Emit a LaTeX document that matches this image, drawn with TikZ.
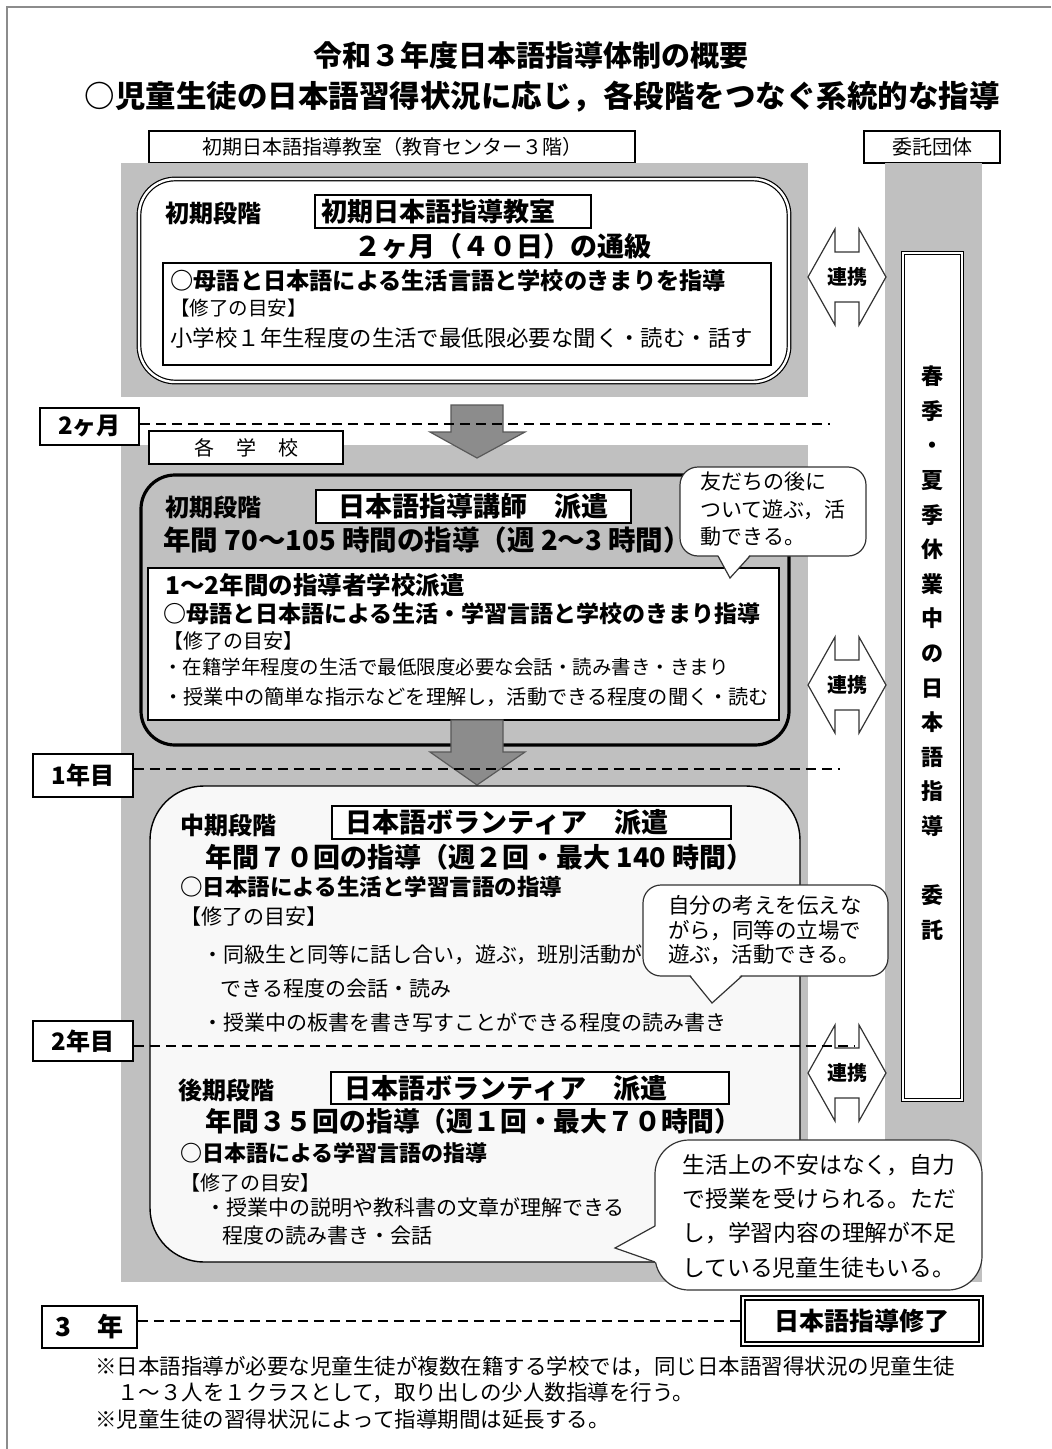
\documentclass[tikz,border=0pt]{standalone}
\usepackage{fontspec}
\setmainfont{Noto Sans CJK JP}
\usetikzlibrary{calc}
\definecolor{panel}{RGB}{192,192,192}
\definecolor{arrowgray}{RGB}{140,140,140}
\definecolor{lowfill}{RGB}{248,248,248}
\definecolor{framegray}{RGB}{140,140,140}
\newcommand\jfz[1]{\fontsize{#1pt}{#1pt}\selectfont}
\tikzset{
  renkei/.pic={
    \draw[fill=white,line width=0.6pt,draw=black!80] (-39,0) -- (-12,-48) -- (-12,-25) -- (12,-25) -- (12,-48) -- (39,0) -- (12,48) -- (12,25) -- (-12,25) -- (-12,48) -- cycle;
    \node[font=\bfseries\jfz{10}] (-t) at (0,0) {連携};
  }
}
\begin{document}
\begin{tikzpicture}[x=0.5pt,y=-0.5pt,
  every node/.style={inner sep=0pt},
  tl/.style={anchor=west,inner sep=0pt},
  frm/.style={draw,line width=0.7pt,fill=white},
  dline/.style={line width=0.6pt,dash pattern=on 5pt off 3pt},
  downarrow/.style={fill=arrowgray,draw=black!65,line width=0.6pt},
  bubble/.style={draw=black!80,line width=0.6pt,fill=white},
  yearbox/.style={draw,line width=0.8pt,fill=white,font=\bfseries\jfz{12}},
  namebox/.style={draw,line width=0.8pt,fill=white,anchor=west,align=left,font=\bfseries\jfz{13.5}},
]
\useasboundingbox (0,0) rectangle (1051,1449);
\fill[white] (0,0) rectangle (1051,1449);
% frame
\draw[framegray,line width=1pt] (7,1449) -- (7,7) -- (1051,7);

% titles
\node[font=\bfseries\jfz{14.5}] (t1) at (531,55) {令和３年度日本語指導体制の概要};
\node[font=\bfseries\jfz{15.25}] (t2) at (542,97) {○児童生徒の日本語習得状況に応じ，各段階をつなぐ系統的な指導};

% header boxes
\node[frm,minimum width=243pt,minimum height=16pt,font=\jfz{10}] (hdr1) at (392,147) {初期日本語指導教室（教育センター３階）};
\node[frm,minimum width=68pt,minimum height=16pt,font=\jfz{10}] (hdr2) at (932,147) {委託団体};

% gray panels
\fill[panel] (121,163) rectangle (808,397);
\fill[panel] (885,163) rectangle (982,1282);
\fill[panel] (121,445) rectangle (808,1282);
\fill[panel] (808,1140) rectangle (885,1282);

% ---------- top stage ----------
\draw[double,double distance=1.2pt,line width=0.6pt,fill=white,rounded corners=18pt] (139,179) rectangle (789,382);
\node[tl,font=\bfseries\jfz{12}] (s1) at (165,213) {初期段階};
\node[namebox,text width=131pt,inner xsep=3.5pt,minimum height=16.5pt,font=\bfseries\jfz{13}] (box1) at (314,211.5) {初期日本語指導教室};
\node[font=\bfseries\jfz{13.5}] (dur1) at (503,246) {２ヶ月（４０日）の通級};
\draw[line width=0.8pt,fill=white] (163,263) rectangle (771,365);
\node[tl,font=\bfseries\jfz{11.6}] (l1a) at (170,281) {○母語と日本語による生活言語と学校のきまりを指導};
\node[tl,font=\jfz{9.75}] (l1b) at (170,308) {【修了の目安】};
\node[tl,font=\jfz{11.2}] (l1c) at (170,338) {小学校１年生程度の生活で最低限必要な聞く・読む・話す};

% down arrow 1
\draw[downarrow] (451,405) -- (503,405) -- (503,432) -- (525,432) -- (477,458) -- (430,432) -- (451,432) -- cycle;

% 2 months line
\node[yearbox,minimum width=49.5pt,minimum height=18.5pt] (m2) at (89.5,426.5) {2ヶ月};
\coordinate (m2end) at (830,424);
\draw[dline] (m2.east |- m2end) -- (m2end);

% 各学校
\node[frm,minimum width=97pt,minimum height=16.5pt,font=\jfz{10}] (kaku) at (246,447.5) {各\hspace{1.1em}学\hspace{1.1em}校};

% ---------- middle stage ----------
\draw[line width=1.6pt,fill=panel,rounded corners=17pt] (141,475) rectangle (789,745);
\node[tl,font=\bfseries\jfz{12}] (s2) at (165,507) {初期段階};
\node[draw,line width=0.8pt,fill=white,minimum width=157.5pt,minimum height=16.5pt,font=\bfseries\jfz{13.5}] (box2) at (473.5,506.5) {日本語指導講師\hspace{1em}派遣};
\node[tl,font=\bfseries\jfz{13.75}] (hrs2) at (163,540) {年間 70～105 時間の指導（週 2～3 時間）};
\draw[line width=0.8pt,fill=white] (148,568) rectangle (779,720);
\node[tl,font=\bfseries\jfz{12.25}] (l2a) at (165,585) {1～2年間の指導者学校派遣};
\node[tl,font=\bfseries\jfz{11.5}] (l2b) at (163,614) {○母語と日本語による生活・学習言語と学校のきまり指導};
\node[tl,font=\jfz{10}] (l2c) at (163,641) {【修了の目安】};
\node[tl,font=\jfz{9.75}] (l2d) at (163,667) {・在籍学年程度の生活で最低限度必要な会話・読み書き・きまり};
\node[tl,font=\jfz{10.1}] (l2e) at (163,697) {・授業中の簡単な指示などを理解し，活動できる程度の聞く・読む};

% bubble 1
\draw[bubble,rounded corners=9pt] (680,467) rectangle (866,556);
\fill[white] (717,553) -- (730,578) -- (751,553) -- cycle;
\draw[draw=black!80,line width=0.6pt] (718,556) -- (730,578) -- (750,556);
\node[tl,align=left,font=\fontsize{10.5pt}{13.75pt}\selectfont] (b1) at (700,509.5) {友だちの後に\\ついて遊ぶ，活\\動できる。};

% down arrow 2
\draw[downarrow] (451,720) -- (503,720) -- (503,752) -- (525,752) -- (477,785) -- (430,752) -- (451,752) -- cycle;

% 1 year line
\node[yearbox,minimum width=50pt,minimum height=21.5pt] (y1) at (83,775.5) {1年目};
\coordinate (y1end) at (840,769);
\draw[dline] (y1.east |- y1end) -- (y1end);

% ---------- lower box ----------
\draw[line width=0.7pt,fill=lowfill,rounded corners=27pt] (150,786) rectangle (800,1262);
\node[tl,font=\bfseries\jfz{12}] (s3) at (180,825) {中期段階};
\node[namebox,text width=185.5pt,inner xsep=7pt,minimum height=16.5pt] (box3) at (331,822.5) {日本語ボランティア\hspace{1em}派遣};
\node[tl,font=\bfseries\jfz{13.5}] (hrs3) at (205,857) {年間７０回の指導（週２回・最大 140 時間）};
\node[tl,font=\bfseries\jfz{11.25}] (l3a) at (180,887) {○日本語による生活と学習言語の指導};
\node[tl,font=\jfz{10.5}] (l3b) at (180,917) {【修了の目安】};
\node[tl,font=\jfz{10.5}] (l3c) at (202,955) {・同級生と同等に話し合い，遊ぶ，班別活動が};
\node[tl,font=\jfz{10.5}] (l3d) at (220,989) {できる程度の会話・読み};
\node[tl,font=\jfz{10.5}] (l3e) at (202,1022) {・授業中の板書を書き写すことができる程度の読み書き};

% bubble 2
\draw[bubble,rounded corners=9pt] (643,885) rectangle (888,976);
\fill[white] (689,973) -- (712,1003) -- (743,973) -- cycle;
\draw[draw=black!80,line width=0.6pt] (690,976) -- (712,1003) -- (742,976);
\node[tl,align=left,font=\fontsize{10.75pt}{12.25pt}\selectfont] (b2) at (668,930.5) {自分の考えを伝えな\\がら，同等の立場で\\遊ぶ，活動できる。};

\node[tl,font=\bfseries\jfz{12}] (s4) at (178,1090) {後期段階};
\node[namebox,text width=185pt,inner xsep=7pt,minimum height=16pt] (box4) at (330,1088) {日本語ボランティア\hspace{1em}派遣};
\node[tl,font=\bfseries\jfz{13.4}] (hrs4) at (205,1121) {年間３５回の指導（週１回・最大７０時間）};
\node[tl,font=\bfseries\jfz{11}] (l4a) at (180,1153) {○日本語による学習言語の指導};
\node[tl,font=\jfz{10}] (l4b) at (180,1183) {【修了の目安】};
\node[tl,font=\jfz{10.5}] (l4c) at (205,1208) {・授業中の説明や教科書の文章が理解できる};
\node[tl,font=\jfz{10.5}] (l4d) at (222,1236) {程度の読み書き・会話};

% right column
\draw[double,double distance=0.8pt,line width=0.5pt,fill=white] (903,253) rectangle (962,1100);
\node[align=center,font=\bfseries\fontsize{11pt}{17.3pt}\selectfont] (vt) at (932,653) {春\\季\\・\\夏\\季\\休\\業\\中\\の\\日\\本\\語\\指\\導\\[17.3pt]委\\託};

% renkei arrows
\pic (rk1) at (847,277) {renkei};
\pic (rk2) at (847,685) {renkei};
\pic (rk3) at (847,1073) {renkei};

% 2 year line (drawn over the arrow as in the reference)
\node[yearbox,minimum width=50pt,minimum height=20pt] (y2) at (83,1041) {2年目};
\coordinate (y2end) at (855,1046);
\draw[dline] (y2.east |- y2end) -- (y2end);

% bubble 3
\draw[bubble,rounded corners=17pt] (655,1140) rectangle (982,1290);
\fill[white] (658,1225) -- (615,1248) -- (658,1263) -- cycle;
\draw[draw=black!80,line width=0.6pt] (655,1226) -- (615,1248) -- (655,1262);
\node[tl,align=left,font=\fontsize{11.4pt}{17.2pt}\selectfont] (b3) at (682,1216) {生活上の不安はなく，自力\\で授業を受けられる。ただ\\し，学習内容の理解が不足\\している児童生徒もいる。};

% 3 years / end
\node[yearbox,minimum width=47.5pt,minimum height=21pt,font=\bfseries\jfz{13}] (y3) at (89.5,1327) {3\hspace{1em}年};
\node[draw,double,double distance=1.2pt,line width=0.7pt,fill=white,minimum width=119pt,minimum height=23pt,font=\bfseries\jfz{12.5}] (fin) at (862,1321) {日本語指導修了};
\draw[dline] (y3.east |- fin.west) -- (fin.west);

% footnotes
\node[tl,font=\jfz{10.75}] (f1) at (95,1367) {※日本語指導が必要な児童生徒が複数在籍する学校では，同じ日本語習得状況の児童生徒};
\node[tl,font=\jfz{10.75}] (f2) at (117,1393) {１～３人を１クラスとして，取り出しの少人数指導を行う。};
\node[tl,font=\jfz{10.75}] (f3) at (95,1419) {※児童生徒の習得状況によって指導期間は延長する。};
\end{tikzpicture}
\end{document}
